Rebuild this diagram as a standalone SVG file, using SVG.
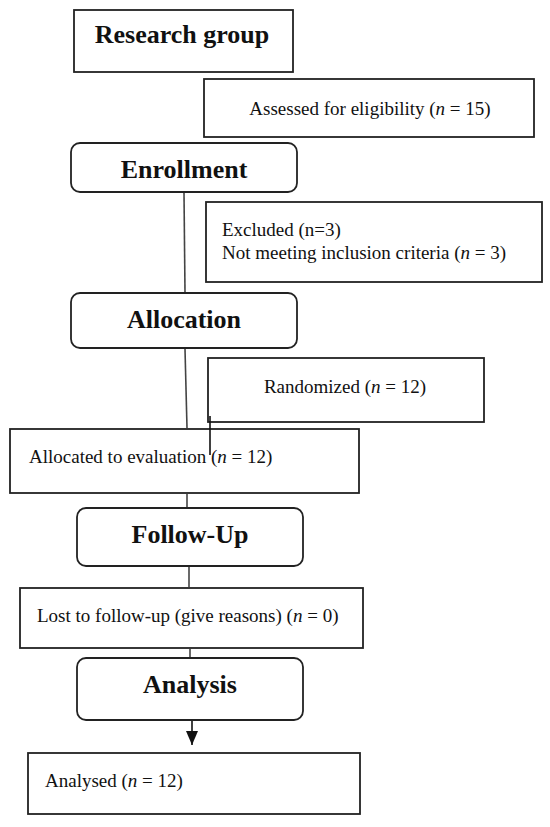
<svg xmlns="http://www.w3.org/2000/svg" width="550" height="827" viewBox="0 0 550 827">
<defs>
<style>
.box{fill:#fff;stroke:#222;stroke-width:1.8}
.rbox{fill:#fff;stroke:#222;stroke-width:1.8}
.t{font-family:"Liberation Serif","Times New Roman",serif;font-size:19px;fill:#111}
.h{font-family:"Liberation Serif","Times New Roman",serif;font-size:26px;font-weight:bold;fill:#111;text-anchor:middle}
.c{stroke:#444;stroke-width:1.6;fill:none}
</style>
<marker id="arr" viewBox="0 0 14 12" refX="14" refY="6" markerWidth="14" markerHeight="12" markerUnits="userSpaceOnUse" orient="auto">
<path d="M0,0 L14,6 L0,12 Z" fill="#111"/>
</marker>
</defs>
<rect width="550" height="827" fill="#fff"/>
<g id="research-group">
<rect class="box" x="74" y="10" width="219" height="62"/>
<text class="h" x="182" y="43">Research group</text>
</g>
<g id="assessed">
<rect class="box" x="204" y="79" width="330" height="58"/>
<text class="t" x="370" y="115" text-anchor="middle">Assessed for eligibility (<tspan font-style="italic">n</tspan> = 15)</text>
</g>
<g id="enrollment">
<rect class="rbox" x="71" y="143" width="226" height="49" rx="9"/>
<text class="h" x="184" y="178">Enrollment</text>
</g>
<g id="excluded">
<rect class="box" x="206" y="202" width="336" height="80"/>
<text class="t" x="222" y="236">Excluded (n=3)</text>
<text class="t" x="222" y="259">Not meeting inclusion criteria (<tspan font-style="italic">n</tspan> = 3)</text>
</g>
<g id="allocation">
<rect class="rbox" x="71" y="293" width="226" height="55" rx="9"/>
<text class="h" x="184" y="328">Allocation</text>
</g>
<g id="randomized">
<rect class="box" x="208" y="358" width="276" height="64"/>
<text class="t" x="345" y="393" text-anchor="middle">Randomized (<tspan font-style="italic">n</tspan> = 12)</text>
</g>
<g id="allocated">
<rect class="box" x="10" y="429" width="349" height="64"/>
<text class="t" x="29" y="463">Allocated to evaluation (<tspan font-style="italic">n</tspan> = 12)</text>
</g>
<g id="follow-up">
<rect class="rbox" x="77" y="508" width="226" height="58" rx="9"/>
<text class="h" x="190" y="543">Follow-Up</text>
</g>
<g id="lost">
<rect class="box" x="20" y="588" width="343" height="60"/>
<text class="t" x="37" y="622">Lost to follow-up (give reasons) (<tspan font-style="italic">n</tspan> = 0)</text>
</g>
<g id="analysis">
<rect class="rbox" x="77" y="658" width="226" height="62" rx="9"/>
<text class="h" x="190" y="693">Analysis</text>
</g>
<g id="analysed">
<rect class="box" x="28" y="753" width="332" height="61"/>
<text class="t" x="45" y="787">Analysed (<tspan font-style="italic">n</tspan> = 12)</text>
</g>
<g id="connectors">
<line class="c" x1="184" y1="193" x2="185" y2="292"/>
<line class="c" x1="185" y1="349" x2="187" y2="428"/>
<line x1="210" y1="416" x2="210" y2="455" stroke="#111" stroke-width="1.6"/>
<line class="c" x1="187" y1="494" x2="187" y2="507"/>
<line class="c" x1="189" y1="567" x2="189" y2="587"/>
<line class="c" x1="190" y1="649" x2="190" y2="657"/>
<line x1="192" y1="721" x2="192" y2="745" stroke="#111" stroke-width="1.6" marker-end="url(#arr)"/>
</g>
</svg>
